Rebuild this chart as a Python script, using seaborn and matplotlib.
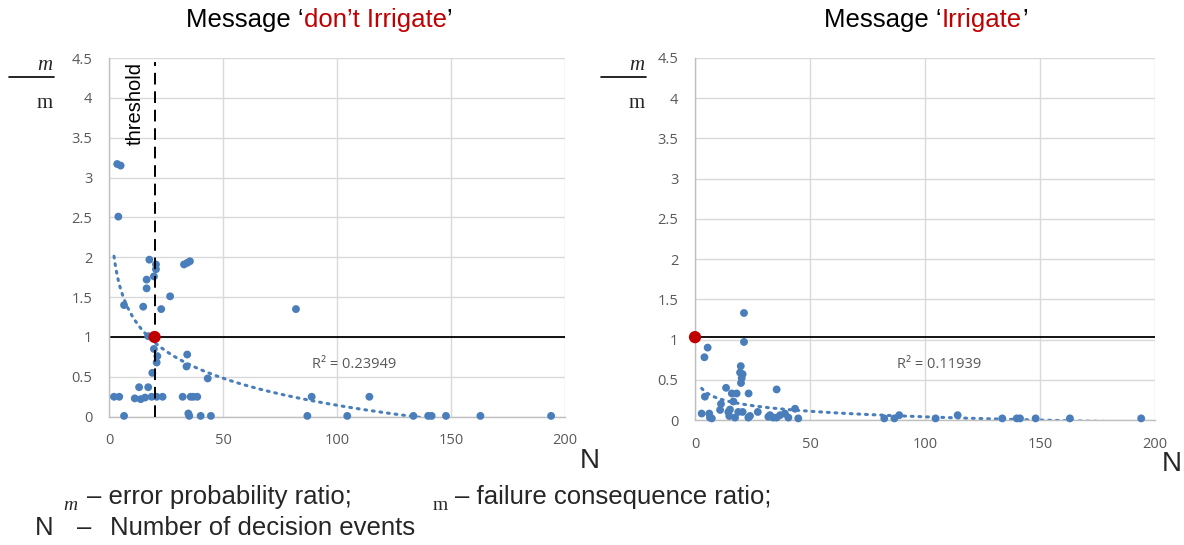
import numpy as np
import pandas as pd
import matplotlib
matplotlib.use("Agg")
import matplotlib.pyplot as plt
from matplotlib.lines import Line2D
import seaborn as sns

# ---------------- data ----------------
left_x = [3.6, 5.1, 4.1, 17.7, 20.6, 20.6, 19.7, 16.5, 16.5, 32.9, 34.3, 35.5, 26.8,
          6.6, 15.0, 22.9, 82.0, 17.2, 19.7, 21.2, 20.9, 34.3, 34.0, 19.0, 43.3, 13.2, 17.2,
          2.2, 4.5, 11.3, 13.9, 15.8, 18.7, 20.9, 23.5, 32.3, 35.8, 37.0, 38.7, 88.9, 114.2,
          6.6, 34.8, 35.2, 40.2, 44.7, 87.0, 104.5, 133.5, 140.0, 141.5, 147.8, 162.9, 193.9]
left_y = [3.17, 3.15, 2.51, 1.97, 1.91, 1.85, 1.76, 1.72, 1.61, 1.91, 1.93, 1.95, 1.51,
          1.40, 1.38, 1.35, 1.35, 1.01, 0.85, 0.76, 0.68, 0.78, 0.63, 0.55, 0.48, 0.37, 0.37,
          0.25, 0.25, 0.23, 0.22, 0.24, 0.25, 0.25, 0.25, 0.25, 0.25, 0.25, 0.25, 0.25, 0.25,
          0.01, 0.04, 0.01, 0.01, 0.01, 0.01, 0.01, 0.01, 0.01, 0.01, 0.01, 0.01, 0.01]

right_x = [21.3, 21.3, 5.5, 4.1, 19.9, 19.6, 20.7, 20.3, 20.0, 13.5, 35.5, 16.0, 18.1, 23.3,
           4.3, 16.7, 11.3, 15.2, 14.5, 27.3, 43.5, 2.9, 6.2, 6.5, 7.3, 14.9, 18.8, 20.7,
           17.4, 23.2, 23.9, 32.6, 34.0, 35.5, 37.0, 39.1, 40.6, 44.9, 31.9, 10.9,
           82.3, 86.7, 88.8, 104.6, 114.2, 133.6, 139.9, 141.3, 148.1, 163.0, 194.0]
right_y = [1.33, 0.97, 0.90, 0.78, 0.67, 0.59, 0.57, 0.52, 0.46, 0.40, 0.38, 0.33, 0.33, 0.33,
           0.29, 0.23, 0.20, 0.13, 0.10, 0.10, 0.14, 0.08, 0.08, 0.03, 0.02, 0.05, 0.10, 0.10,
           0.03, 0.03, 0.05, 0.06, 0.03, 0.03, 0.06, 0.08, 0.03, 0.02, 0.04, 0.125,
           0.02, 0.02, 0.06, 0.02, 0.06, 0.02, 0.02, 0.02, 0.02, 0.02, 0.02]

# logarithmic trendline y = a*ln(N) + b, coefficients
left_trend_a, left_trend_b = -0.49, 2.40
right_trend_a, right_trend_b = -0.10, 0.50

left_ref_point = (20, 1.0)
right_ref_point = (0, 1.03)
left_hline_x = [1, 200]
left_hline_y = [1.0, 1.0]
right_hline_x = [0, 200]
right_hline_y = [1.03, 1.03]
threshold_x = 20

x_ticks = [0, 50, 100, 150, 200]
x_tick_labels = ["0", "50", "100", "150", "200"]
y_ticks = [0, 0.5, 1, 1.5, 2, 2.5, 3, 3.5, 4, 4.5]
y_tick_labels = ["0", "0.5", "1", "1.5", "2", "2.5", "3", "3.5", "4", "4.5"]

left_r2_text = "R² = 0.23949"
right_r2_text = "R² = 0.11939"
left_title_parts = [("Message ‘", "black"), ("don’t Irrigate", "#C00000"), ("’", "black")]
right_title_parts = [("Message ‘", "black"), ("Irrigate", "#C00000"), ("’", "black")]

# ---------------- style ----------------
sns.set_style("white")
plt.rcParams['font.family'] = ['Liberation Sans', 'DejaVu Sans']

BLUE = "#4A7EBB"
RED = "#C00000"
GRID = "#D9D9D9"
TICK = "#595959"
W, H = 1184, 545

fig = plt.figure(figsize=(W / 100, H / 100), dpi=100)
ax1 = fig.add_axes([109 / W, (H - 416.7) / H, 456 / W, 358.7 / H])
ax2 = fig.add_axes([695 / W, (H - 420) / H, 460 / W, 362 / H])


def style_axes(ax):
    ax.set_xlim(0, 200)
    ax.set_ylim(0, 4.5)
    ax.set_xticks(x_ticks)
    ax.set_xticklabels(x_tick_labels)
    ax.set_yticks(y_ticks)
    ax.set_yticklabels(y_tick_labels)
    ax.grid(True, color=GRID, linewidth=1)
    ax.set_axisbelow(True)
    for s in ["top", "right"]:
        ax.spines[s].set_visible(False)
    for s in ["left", "bottom"]:
        ax.spines[s].set_color("#BFBFBF")
        ax.spines[s].set_linewidth(1)
    ax.tick_params(length=0, pad=12, labelsize=10.5, labelcolor=TICK)
    for lab in ax.get_xticklabels() + ax.get_yticklabels():
        lab.set_family(['Open Sans', 'DejaVu Sans'])
    ax.set_xlabel("")
    ax.set_ylabel("")


def draw_panel(ax, xs, ys, ta, tb, hx, hy, ref):
    df = pd.DataFrame({"N": xs, "ratio": ys})
    tx = np.linspace(df["N"].min(), df["N"].max(), 600)
    ty = ta * np.log(tx) + tb
    ax.plot(tx, ty, color=BLUE, linewidth=2.2, linestyle=(0, (0.6, 1.9)),
            dash_capstyle="round", zorder=2)
    ax.plot(hx, hy, color="black", linewidth=1.3, zorder=3)
    sns.scatterplot(data=df, x="N", y="ratio", ax=ax, color=BLUE, s=32,
                    edgecolor="none", zorder=4, clip_on=False, legend=False)
    ax.scatter([ref[0]], [ref[1]], s=78, color=RED, zorder=6, clip_on=False,
               edgecolors="none")
    style_axes(ax)


draw_panel(ax1, left_x, left_y, left_trend_a, left_trend_b,
           left_hline_x, left_hline_y, left_ref_point)
draw_panel(ax2, right_x, right_y, right_trend_a, right_trend_b,
           right_hline_x, right_hline_y, right_ref_point)

# threshold
ax1.plot([threshold_x, threshold_x], [0, 4.45], color="black", linewidth=1.4,
         linestyle=(0, (6, 3.5)), zorder=5)
ax1.text(11.6, 4.45, "threshold", rotation=90, ha="center", va="top",
         fontsize=14.5, color="black")

# R² labels
ax1.text(89, 0.65, left_r2_text, fontsize=10.5, color=TICK, va="center", ha="left",
         family=['Open Sans', 'DejaVu Sans'])
ax2.text(88, 0.69, right_r2_text, fontsize=10.5, color=TICK, va="center", ha="left",
         family=['Open Sans', 'DejaVu Sans'])

# titles (multi-colour)
fig.canvas.draw()
renderer = fig.canvas.get_renderer()


def place_parts(parts, cx, baseline, size):
    texts, widths = [], []
    for s, c in parts:
        t = fig.text(0, 1 - baseline / H, s, color=c, fontsize=size, va="baseline", ha="left")
        texts.append(t)
        widths.append(t.get_window_extent(renderer).width)
    x = cx - sum(widths) / 2
    for t, w in zip(texts, widths):
        t.set_x(x / W)
        x += w


place_parts(left_title_parts, 319.5, 27, 18.5)
place_parts(right_title_parts, 926, 27, 18.5)

# y-label fractions
for xc, x0, x1 in [(45, 9, 54), (637, 601, 646)]:
    fig.text(xc / W, 1 - 65 / H, "m", fontsize=15, style="italic", ha="center", va="center",
             family=["Liberation Serif", "DejaVu Serif"])
    fig.add_artist(Line2D([x0 / W, x1 / W], [1 - 76.7 / H, 1 - 76.7 / H],
                          color="black", linewidth=1.2, transform=fig.transFigure))
    fig.text(xc / W, 1 - 103 / H, "m", fontsize=15, ha="center", va="center",
             family=["Liberation Serif", "DejaVu Serif"])

# N axis labels
fig.text(580 / W, 1 - 468 / H, "N", fontsize=20, va="baseline", ha="left")
fig.text(1162 / W, 1 - 471 / H, "N", fontsize=20, va="baseline", ha="left")

# legend text at the bottom
fs = 18.5
fig.text(70 / W, 1 - 506 / H, "m", fontsize=14, style="italic", ha="center", va="center",
         family=["Liberation Serif", "DejaVu Serif"])
fig.text(87 / W, 1 - 504 / H, "– error probability ratio;", fontsize=fs, va="baseline")
fig.text(440 / W, 1 - 506 / H, "m", fontsize=14, ha="center", va="center",
         family=["Liberation Serif", "DejaVu Serif"])
fig.text(455 / W, 1 - 504 / H, "– failure consequence ratio;", fontsize=fs, va="baseline")
fig.text(35 / W, 1 - 535 / H, "N", fontsize=fs, va="baseline")
fig.text(77 / W, 1 - 535 / H, "–", fontsize=fs, va="baseline")
fig.text(110 / W, 1 - 535 / H, "Number of decision events", fontsize=fs, va="baseline")

fig.savefig("out.png", dpi=100, facecolor="white")
